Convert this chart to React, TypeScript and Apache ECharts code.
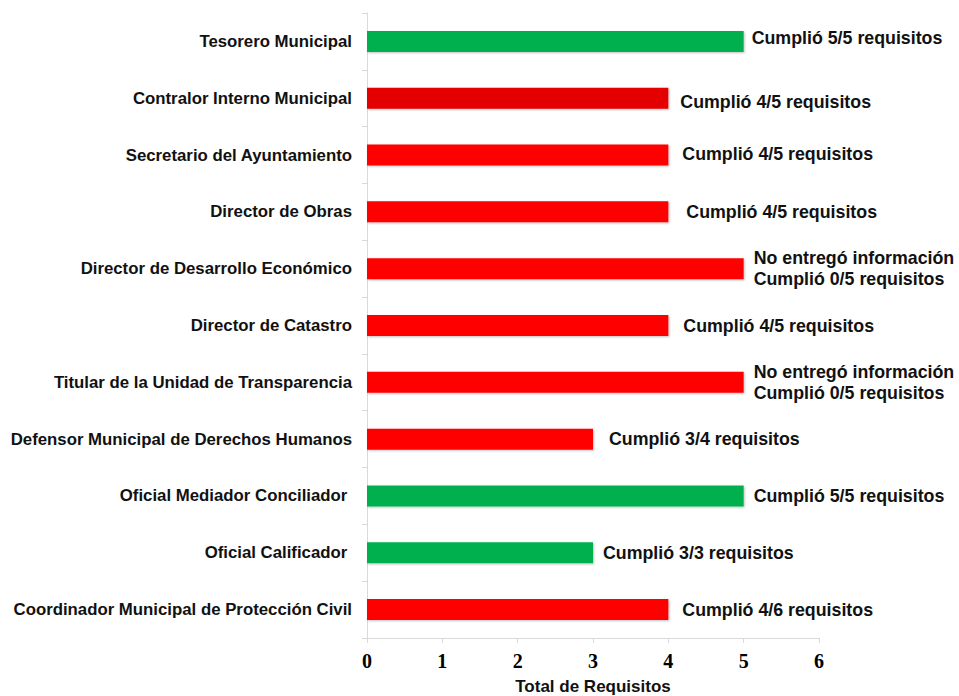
import React, { useEffect, useRef } from "react";
import * as echarts from "echarts";

const categories = [
  "Tesorero Municipal",
  "Contralor Interno Municipal",
  "Secretario del Ayuntamiento",
  "Director de Obras",
  "Director de Desarrollo Económico",
  "Director de Catastro",
  "Titular de la Unidad de Transparencia",
  "Defensor Municipal de Derechos Humanos",
  "Oficial Mediador Conciliador ",
  "Oficial Calificador ",
  "Coordinador Municipal de Protección Civil",
];

const totalRequisitos = [5, 4, 4, 4, 5, 4, 5, 3, 5, 3, 4];

const barLabels = [
  "Cumplió 5/5 requisitos",
  "Cumplió 4/5 requisitos",
  "Cumplió 4/5 requisitos",
  "Cumplió 4/5 requisitos",
  "No entregó información\nCumplió 0/5 requisitos",
  "Cumplió 4/5 requisitos",
  "No entregó información\nCumplió 0/5 requisitos",
  "Cumplió 3/4 requisitos",
  "Cumplió 5/5 requisitos",
  "Cumplió 3/3 requisitos",
  "Cumplió 4/6 requisitos",
];

const barColors = [
  "#00B050",
  "#E40000",
  "#FF0000",
  "#FF0000",
  "#FF0000",
  "#FF0000",
  "#FF0000",
  "#FF0000",
  "#00B050",
  "#00B050",
  "#FF0000",
];

const xTicks = [0, 1, 2, 3, 4, 5, 6];

// small per-label nudges [dx, dy] to mimic the hand-placed text boxes
const labelNudges: [number, number][] = [
  [0, -3],
  [4, 4],
  [6, -1],
  [10, 0],
  [2, 0],
  [7, 0],
  [2, 0],
  [8, 0],
  [2, 0],
  [2, 0],
  [6, 0],
];

export default function App() {
  const ref = useRef<HTMLDivElement>(null);

  useEffect(() => {
    document.body.style.margin = "0";
    if (!ref.current) return;
    const chart = echarts.init(ref.current, undefined, { renderer: "svg" });
    const sans = "'Liberation Sans', Arial, sans-serif";
    chart.setOption({
      animation: false,
      backgroundColor: "#ffffff",
      grid: {
        left: 367,
        right: 140,
        top: 13,
        bottom: 58,
        containLabel: false,
        outerBoundsMode: "none",
      },
      xAxis: {
        type: "value",
        min: xTicks[0],
        max: xTicks[xTicks.length - 1],
        interval: 1,
        name: "Total de Requisitos",
        nameLocation: "middle",
        nameGap: 40,
        nameTextStyle: { fontFamily: sans, fontWeight: "bold", fontSize: 17, color: "#111" },
        axisLine: { show: true, lineStyle: { color: "#d9d9d9", width: 1 } },
        axisTick: { show: true, length: 5, lineStyle: { color: "#d9d9d9" } },
        splitLine: { show: false },
        axisLabel: {
          fontFamily: "'Liberation Serif', 'Times New Roman', serif",
          fontWeight: "bold",
          fontSize: 20,
          color: "#000",
          margin: 13,
        },
      },
      yAxis: {
        type: "category",
        inverse: true,
        data: categories,
        axisLine: { show: true, lineStyle: { color: "#d9d9d9", width: 1 } },
        axisTick: { show: true, length: 5, lineStyle: { color: "#d9d9d9" } },
        axisLabel: {
          fontFamily: sans,
          fontWeight: "bold",
          fontSize: 16.8,
          color: "#111",
          margin: 15,
        },
        splitLine: { show: false },
      },
      series: [
        {
          type: "bar",
          barWidth: 21,
          data: totalRequisitos.map((v, i) => ({
            value: v,
            itemStyle: {
              color: barColors[i],
              shadowColor: "rgba(0,0,0,0.25)",
              shadowBlur: 2,
              shadowOffsetX: 1,
              shadowOffsetY: 1,
            },
            label: {
              show: true,
              position: "right",
              distance: 8,
              offset: labelNudges[i],
              formatter: barLabels[i],
              fontFamily: sans,
              fontWeight: "bold",
              fontSize: 17.8,
              lineHeight: 21,
              color: "#111",
              align: "left",
            },
          })),
        },
      ],
    });
    return () => chart.dispose();
  }, []);

  return <div ref={ref} style={{ width: 959, height: 696 }} />;
}
